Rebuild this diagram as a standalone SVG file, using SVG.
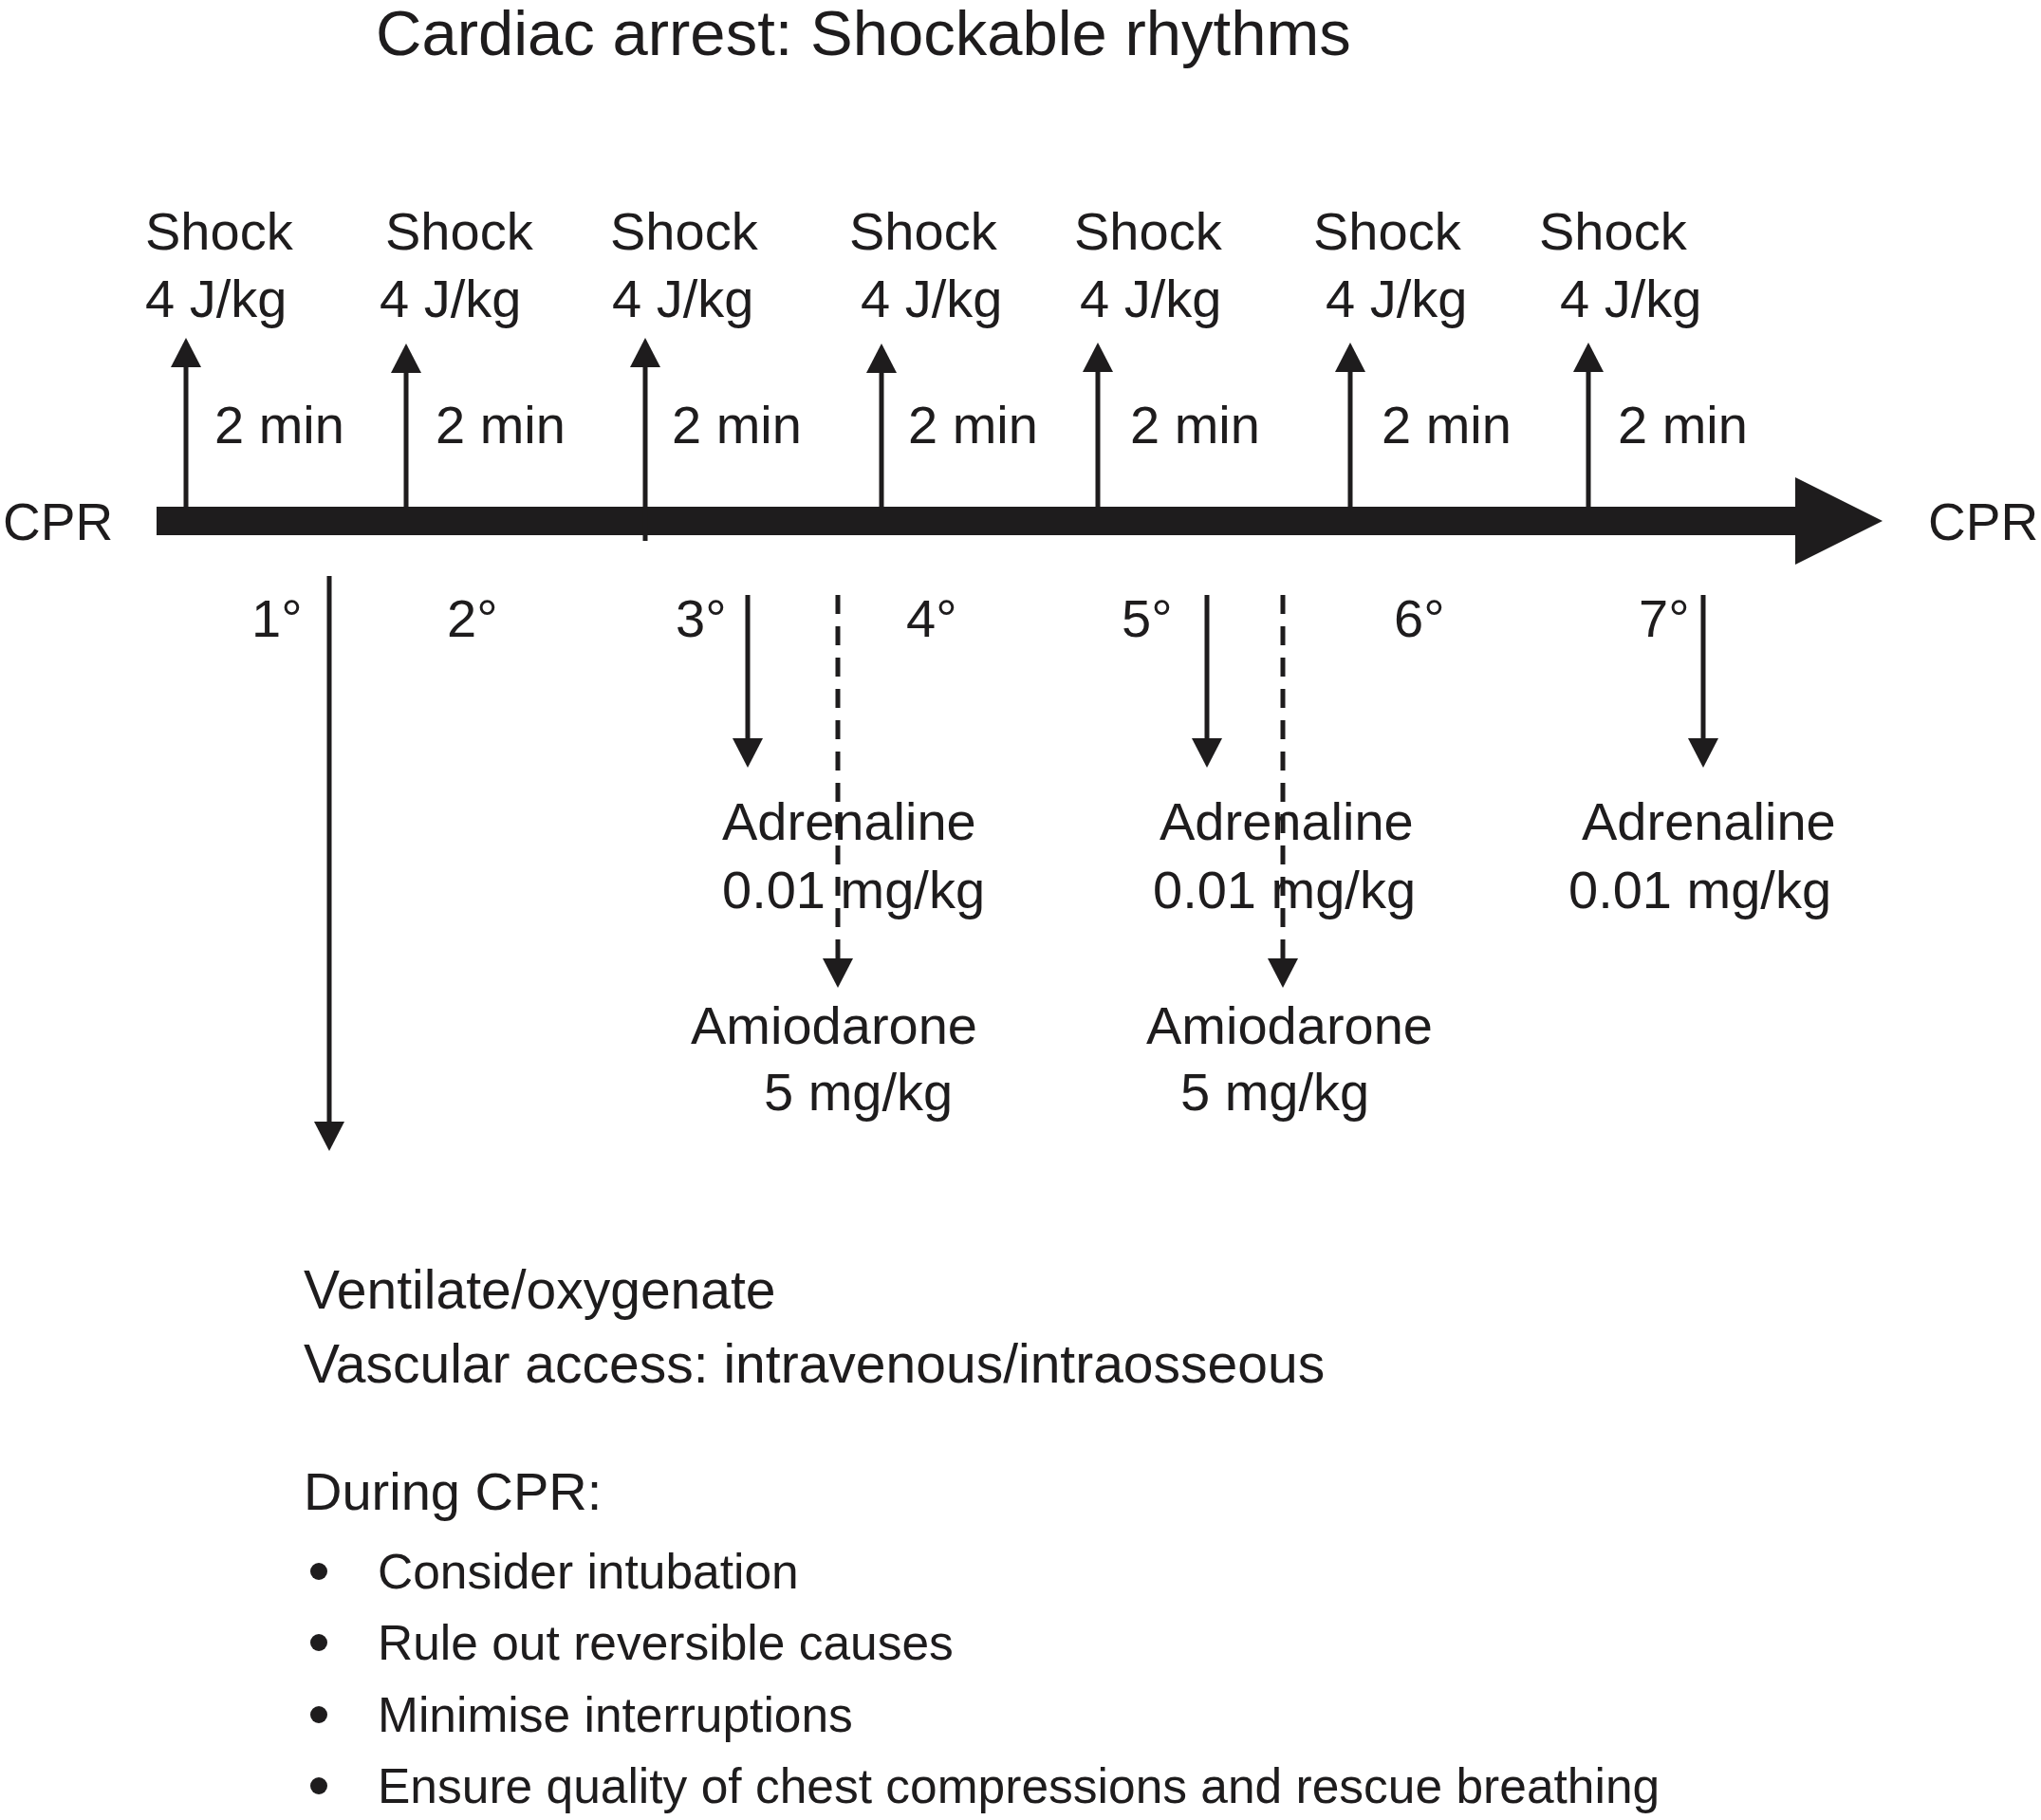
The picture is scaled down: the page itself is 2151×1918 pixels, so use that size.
<svg xmlns="http://www.w3.org/2000/svg" width="2151" height="1918" viewBox="0 0 2151 1918">
<style>
text{font-family:"Liberation Sans",Arial,Helvetica,sans-serif;font-size:56px;fill:#1e1c1d}
.t{font-size:67px}
.c{font-size:55px}
.n{font-size:57px}
.b{font-size:51.5px}
.ln{stroke:#1e1c1d;stroke-width:5;fill:none}
.dash{stroke-dasharray:20 13}
.dot{fill:#1e1c1d}
</style>
<defs>
<marker id="ah" markerUnits="userSpaceOnUse" markerWidth="32" markerHeight="32" viewBox="0 0 30 31" refX="0" refY="15.5" orient="auto">
<path d="M0,0 L30,15.5 L0,31 z" fill="#1e1c1d"/>
</marker>
</defs>
<rect width="2151" height="1918" fill="#ffffff"/>
<g id="title"><text class="t" x="396" y="58">Cardiac arrest: Shockable rhythms</text></g>
<g id="timeline">
<rect x="165" y="534" width="1728" height="30" fill="#1e1c1d"/>
<polygon points="1892,503 1984,549 1892,595" fill="#1e1c1d"/>
</g>
<g id="cpr-start"><text class="c" x="3" y="569">CPR</text></g>
<g id="cpr-end"><text class="c" x="2032" y="569">CPR</text></g>
<g id="connectors">
<line class="ln" x1="196" y1="534" x2="196" y2="387" marker-end="url(#ah)"/>
<line class="ln" x1="428" y1="534" x2="428" y2="393" marker-end="url(#ah)"/>
<line class="ln" x1="680" y1="570" x2="680" y2="387" marker-end="url(#ah)"/>
<line class="ln" x1="929" y1="534" x2="929" y2="393" marker-end="url(#ah)"/>
<line class="ln" x1="1157" y1="534" x2="1157" y2="392" marker-end="url(#ah)"/>
<line class="ln" x1="1423" y1="534" x2="1423" y2="392" marker-end="url(#ah)"/>
<line class="ln" x1="1674" y1="534" x2="1674" y2="392" marker-end="url(#ah)"/>
<line class="ln" x1="347" y1="607" x2="347" y2="1182" marker-end="url(#ah)"/>
<line class="ln" x1="788" y1="627" x2="788" y2="778" marker-end="url(#ah)"/>
<line class="ln" x1="1272" y1="627" x2="1272" y2="778" marker-end="url(#ah)"/>
<line class="ln" x1="1795" y1="627" x2="1795" y2="778" marker-end="url(#ah)"/>
<line class="ln dash" x1="883" y1="627" x2="883" y2="1010" marker-end="url(#ah)"/>
<line class="ln dash" x1="1352" y1="627" x2="1352" y2="1010" marker-end="url(#ah)"/>
</g>
<g id="shock1"><text x="153" y="263">Shock</text><text x="153" y="334">4 J/kg</text></g>
<g id="shock2"><text x="406" y="263">Shock</text><text x="400" y="334">4 J/kg</text></g>
<g id="shock3"><text x="643" y="263">Shock</text><text x="645" y="334">4 J/kg</text></g>
<g id="shock4"><text x="895" y="263">Shock</text><text x="907" y="334">4 J/kg</text></g>
<g id="shock5"><text x="1132" y="263">Shock</text><text x="1138" y="334">4 J/kg</text></g>
<g id="shock6"><text x="1384" y="263">Shock</text><text x="1397" y="334">4 J/kg</text></g>
<g id="shock7"><text x="1622" y="263">Shock</text><text x="1644" y="334">4 J/kg</text></g>
<g id="intervals">
<text x="226" y="467">2 min</text>
<text x="459" y="467">2 min</text>
<text x="708" y="467">2 min</text>
<text x="957" y="467">2 min</text>
<text x="1191" y="467">2 min</text>
<text x="1456" y="467">2 min</text>
<text x="1705" y="467">2 min</text>
</g>
<g id="cycles">
<text x="265" y="671">1°</text>
<text x="471" y="671">2°</text>
<text x="712" y="671">3°</text>
<text x="955" y="671">4°</text>
<text x="1182" y="671">5°</text>
<text x="1469" y="671">6°</text>
<text x="1727" y="671">7°</text>
</g>
<g id="adrenaline1"><text x="761" y="885">Adrenaline</text><text x="761" y="957">0.01 mg/kg</text></g>
<g id="adrenaline2"><text x="1222" y="885">Adrenaline</text><text x="1215" y="957">0.01 mg/kg</text></g>
<g id="adrenaline3"><text x="1667" y="885">Adrenaline</text><text x="1653" y="957">0.01 mg/kg</text></g>
<g id="amiodarone1"><text x="728" y="1100">Amiodarone</text><text x="805" y="1170">5 mg/kg</text></g>
<g id="amiodarone2"><text x="1208" y="1100">Amiodarone</text><text x="1244" y="1170">5 mg/kg</text></g>
<g id="notes">
<text class="n" x="320" y="1379">Ventilate/oxygenate</text>
<text class="n" x="320" y="1457">Vascular access: intravenous/intraosseous</text>
<text x="320" y="1591">During CPR:</text>
<circle class="dot" cx="336" cy="1656" r="9"/>
<text class="b" x="398" y="1674">Consider intubation</text>
<circle class="dot" cx="336" cy="1731" r="9"/>
<text class="b" x="398" y="1749">Rule out reversible causes</text>
<circle class="dot" cx="336" cy="1807" r="9"/>
<text class="b" x="398" y="1825">Minimise interruptions</text>
<circle class="dot" cx="336" cy="1882" r="9"/>
<text class="b" x="398" y="1900">Ensure quality of chest compressions and rescue breathing</text>
</g>
</svg>
